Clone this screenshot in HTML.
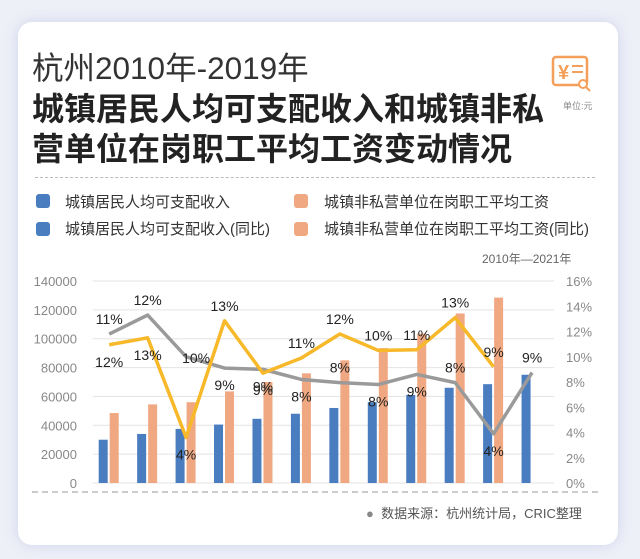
<!DOCTYPE html>
<html><head><meta charset="utf-8">
<style>
body{margin:0;width:640px;height:559px;background:#eef0f8;font-family:"Liberation Sans","Noto Sans CJK SC",sans-serif;overflow:hidden;position:relative}
.card{position:absolute;left:18px;top:22px;width:600px;height:523px;background:#fff;border-radius:14px;box-shadow:0 0 14px rgba(150,160,210,.35)}
.t{position:absolute;left:32px;color:#222;white-space:nowrap}
.leg{position:absolute;font-size:15px;color:#333;white-space:nowrap}
.sw{position:absolute;width:14px;height:14px;border-radius:3px}
</style></head><body>
<div class="card"></div>
<div class="t" style="top:43px;font-size:31.5px;color:#333">杭州2010年-2019年</div>
<div class="t" style="top:84px;font-size:32px;font-weight:bold">城镇居民人均可支配收入和城镇非私</div>
<div class="t" style="top:124px;font-size:32px;font-weight:bold">营单位在岗职工平均工资变动情况</div>
<svg style="position:absolute;left:550px;top:54px" width="42" height="40">
<rect x="3" y="3" width="34" height="28" rx="3" fill="none" stroke="#f5a05a" stroke-width="2.5"/>
<text x="8" y="25" font-size="20" font-weight="bold" fill="#f5a05a" font-family="Liberation Sans">¥</text>
<line x1="22" y1="12" x2="33" y2="12" stroke="#f5a05a" stroke-width="2"/><line x1="22" y1="18" x2="33" y2="18" stroke="#f5a05a" stroke-width="2"/>
<circle cx="33" cy="30" r="4" fill="#fff" stroke="#f5a05a" stroke-width="2"/><line x1="36" y1="33" x2="40" y2="37" stroke="#f5a05a" stroke-width="2"/>
</svg>
<div class="leg" style="left:563px;top:99px;font-size:9px;color:#888">单位:元</div>
<div style="position:absolute;left:35px;top:177px;width:560px;border-top:1px dashed #bbb"></div>
<div class="sw" style="left:36px;top:194px;background:#4a7cc0"></div>
<div class="leg" style="left:65px;top:191px">城镇居民人均可支配收入</div>
<div class="sw" style="left:36px;top:222px;background:#4a7cc0"></div>
<div class="leg" style="left:65px;top:218px">城镇居民人均可支配收入(同比)</div>
<div class="sw" style="left:294px;top:194px;background:#f0a882"></div>
<div class="leg" style="left:324px;top:191px">城镇非私营单位在岗职工平均工资</div>
<div class="sw" style="left:294px;top:222px;background:#f0a882"></div>
<div class="leg" style="left:324px;top:218px">城镇非私营单位在岗职工平均工资(同比)</div>
<div class="leg" style="left:482px;top:250px;font-size:12px;color:#666">2010年—2021年</div>
<svg id="ch" style="position:absolute;left:0;top:0" width="640" height="559"></svg>
<div style="position:absolute;left:32px;top:491px;width:566px;border-top:2px dashed #ccc"></div>
<div class="leg" style="left:366px;top:503px;font-size:13px;color:#555"><span style="color:#888">●</span>&nbsp; 数据来源：杭州统计局，CRIC整理</div>
<script>
const categories=["2010","2011","2012","2013","2014","2015","2016","2017","2018","2019","2020","2021"];
const incomeValues=[30000,34000,37500,40500,44500,48000,52000,56000,61000,66000,68500,75000];
const wageValues=[48500,54500,56000,63500,70000,76000,85000,93500,103500,117500,128500];
const incomeYoy=[11.8,13.3,10.0,9.1,9.0,8.2,7.95,7.8,8.6,7.95,3.9,8.75];
const wageYoy=[10.95,11.5,3.6,12.85,8.7,9.9,11.8,10.5,10.55,13.1,9.2];
const incomeYoyLabels=["11%","12%","10%","9%","9%","8%","8%","8%","9%","8%","4%","9%"];
const incomeYoyPos=["a","a","r","b","b","b","a","b","b","a","b","a"];
const wageYoyLabels=["12%","13%","4%","13%","9%","11%","12%","10%","11%","13%","9%"];
const wageYoyPos=["b","b","b","a","b","a","a","a","a","a","a"];
const leftTicks=[0,20000,40000,60000,80000,100000,120000,140000];
const rightTicks=[0,2,4,6,8,10,12,14,16];
const svg=document.getElementById('ch');const NS='http://www.w3.org/2000/svg';
const X0=92.7,X1=554,Y0=483,Y1=281;const band=(X1-X0)/categories.length;
const yL=v=>Y0-(v/140000)*(Y0-Y1);const yR=v=>Y0-(v/16)*(Y0-Y1);const xc=i=>X0+band*i+16.5;
function mk(t,a,p){const e=document.createElementNS(NS,t);for(const k in a)e.setAttribute(k,a[k]);(p||svg).appendChild(e);return e;}
leftTicks.forEach(v=>{const y=yL(v);
 const g=mk('line',{x1:X0,x2:X1,y1:y,y2:y,stroke:'#e3e3e3','stroke-width':1});
 
 
 const t=mk('text',{x:77,y:y+5,'text-anchor':'end','font-size':13,fill:'#888'});t.textContent=v;
 
 });
rightTicks.forEach(v=>{const t=mk('text',{x:566,y:yR(v)+5,'font-size':13,fill:'#888'});t.textContent=v+'%';
 
 });
incomeValues.forEach((v,i)=>{const r=mk('rect',{x:xc(i)-10.5,y:yL(v),width:9,height:Y0-yL(v),fill:'#4a7cc0'});
 
 });
wageValues.forEach((v,i)=>{const r=mk('rect',{x:xc(i)+0.5,y:yL(v),width:9,height:Y0-yL(v),fill:'#f0a882'});
 
 });
const gl=mk('polyline',{points:incomeYoy.map((v,i)=>xc(i)+','+yR(v)).join(' '),fill:'none',stroke:'#9a9a9a','stroke-width':3.5,'stroke-linejoin':'round'});


const yl=mk('polyline',{points:wageYoy.map((v,i)=>xc(i)+','+yR(v)).join(' '),fill:'none',stroke:'#f7b82a','stroke-width':3.5,'stroke-linejoin':'round'});


function lab(vals,labs,pos,name){vals.forEach((v,i)=>{let x=xc(i),y=yR(v);
 if(pos[i]==='a')y-=10;else if(pos[i]==='b')y+=22;else{x+=10;y+=6;}
 const t=mk('text',{x:x,y:y,'text-anchor':'middle','font-size':14,fill:'#222'});t.textContent=labs[i];
 
 });}
lab(incomeYoy,incomeYoyLabels,incomeYoyPos,'income-yoy-label');
lab(wageYoy,wageYoyLabels,wageYoyPos,'wage-yoy-label');
</script>
</body></html>
